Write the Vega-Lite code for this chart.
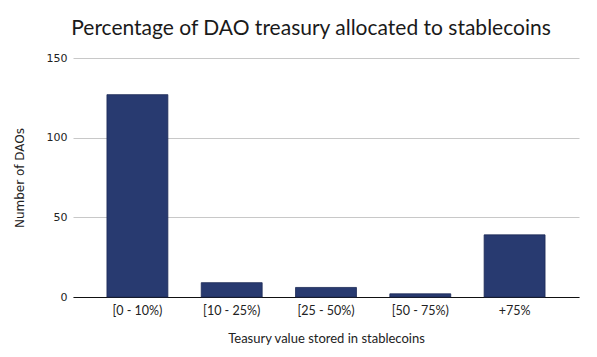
{
  "$schema": "https://vega.github.io/schema/vega-lite/v6.json",
  "width": 506,
  "height": 239,
  "autosize": "none",
  "padding": {"left": 73, "top": 58, "right": 18, "bottom": 60},
  "background": "white",
  "title": {
    "text": "Percentage of DAO treasury allocated to stablecoins",
    "font": "Lato",
    "fontSize": 21,
    "fontWeight": "normal",
    "color": "#1a1a1a",
    "anchor": "middle",
    "frame": "group",
    "dx": -15,
    "offset": 13
  },
  "config": {
    "view": {"stroke": null},
    "font": "Lato"
  },
  "data": {
    "values": [
      {"range": "[0 - 10%)", "count": 127},
      {"range": "[10 - 25%)", "count": 9},
      {"range": "[25 - 50%)", "count": 6},
      {"range": "[50 - 75%)", "count": 2},
      {"range": "+75%", "count": 39}
    ]
  },
  "mark": {"type": "bar", "color": "#283a70", "stroke": "#1c2a55", "strokeWidth": 0.8},
  "encoding": {
    "x": {
      "field": "range",
      "type": "nominal",
      "sort": null,
      "scale": {"paddingInner": 0.354, "paddingOuter": 0.36},
      "axis": {
        "title": "Teasury value stored in stablecoins",
        "labelAngle": 0,
        "labelFont": "Lato",
        "labelFontSize": 12.5,
        "labelColor": "#222",
        "labelPadding": 7,
        "ticks": false,
        "domainColor": "#111",
        "domainWidth": 1.2,
        "titleFont": "Lato",
        "titleFontSize": 13,
        "titleFontWeight": "normal",
        "titleColor": "#222",
        "titlePadding": 16
      }
    },
    "y": {
      "field": "count",
      "type": "quantitative",
      "scale": {"domain": [0, 150]},
      "axis": {
        "title": "Number of DAOs",
        "values": [0, 50, 100, 150],
        "domain": false,
        "ticks": false,
        "labelFont": "DejaVu Sans",
        "labelFontSize": 11,
        "labelColor": "#222",
        "labelPadding": 6,
        "gridColor": "#c8c8c8",
        "titleFont": "DejaVu Sans",
        "titleFontSize": 12,
        "titleFontWeight": "normal",
        "titleColor": "#222",
        "titlePadding": 20
      }
    }
  }
}
